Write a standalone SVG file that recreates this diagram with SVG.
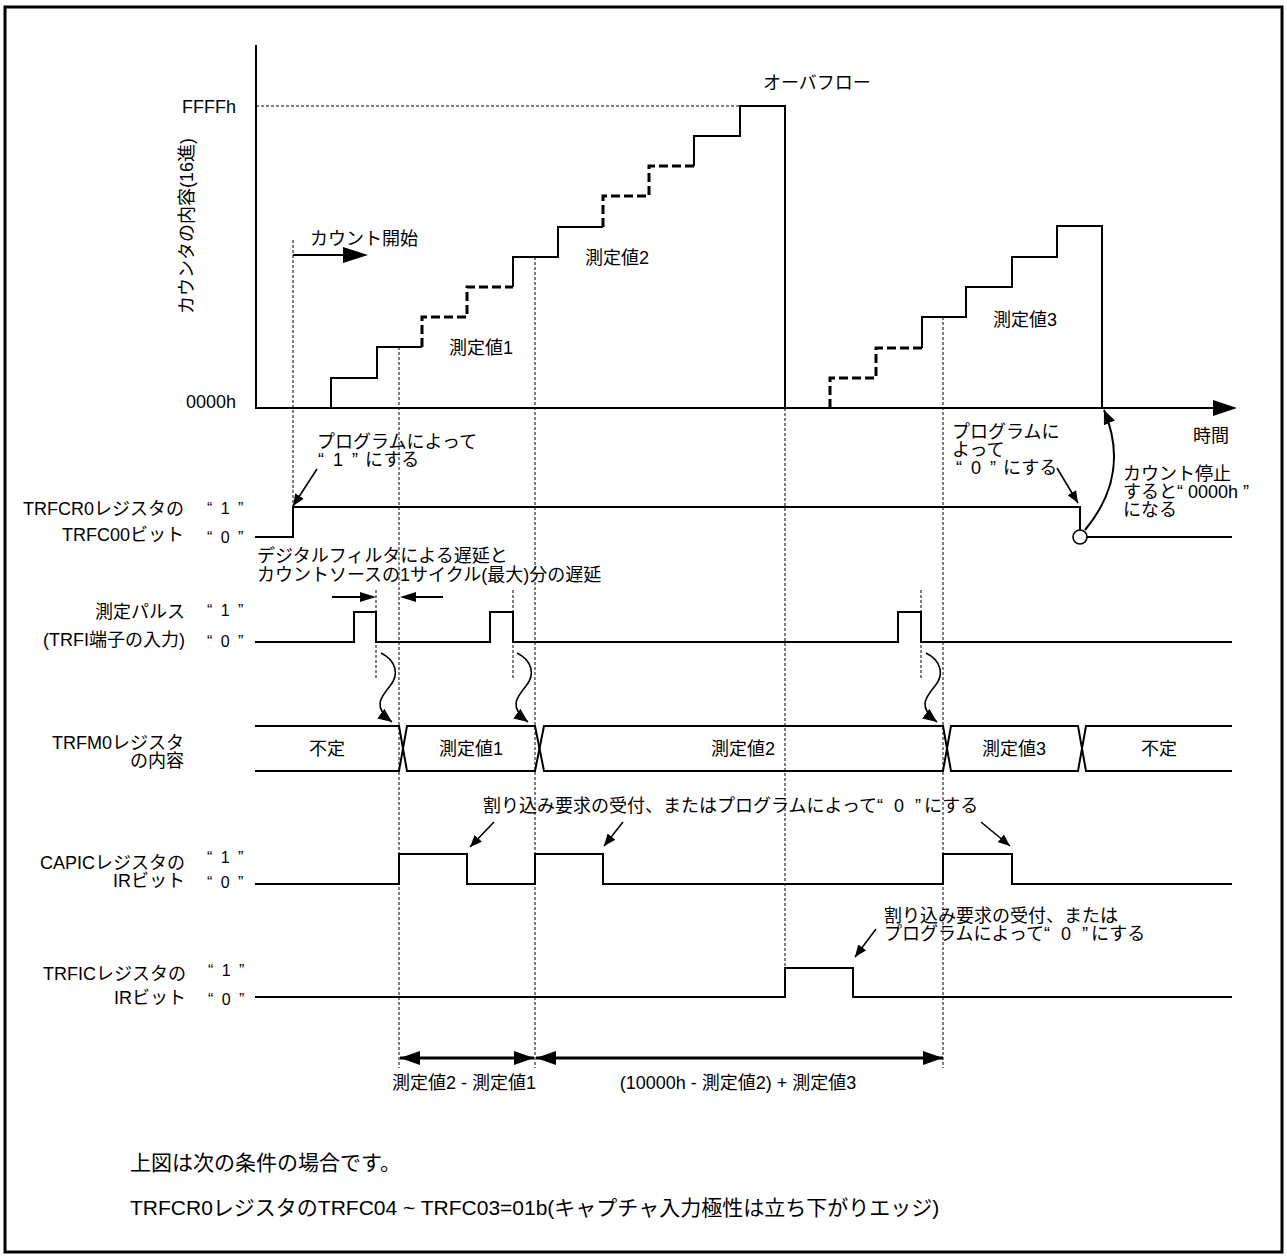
<svg xmlns="http://www.w3.org/2000/svg" width="1287" height="1257" viewBox="0 0 1287 1257">
<style>
text{font-family:"Liberation Sans","Noto Sans CJK JP",sans-serif;font-size:18px;fill:#000;}
.e{text-anchor:end}
.m{text-anchor:middle}
.q{font-size:16px;letter-spacing:2px}
.w{letter-spacing:2px}
.w5{letter-spacing:3px}
.n{font-size:21px}
.s{fill:none;stroke:#000;stroke-width:2}
.t{fill:none;stroke:#000;stroke-width:1.6}
.d{fill:none;stroke:#000;stroke-width:1;stroke-dasharray:3 2}
.dd{fill:none;stroke:#000;stroke-width:3;stroke-dasharray:9 4}
</style>
<defs>
<marker id="ah" viewBox="0 0 12 10" refX="12" refY="5" markerWidth="12" markerHeight="10" markerUnits="userSpaceOnUse" orient="auto"><path d="M0,0 L12,5 L0,10 z"/></marker>
<marker id="ahs" viewBox="0 0 14 12" refX="14" refY="6" markerWidth="14" markerHeight="12" markerUnits="userSpaceOnUse" orient="auto"><path d="M0,0 L14,6 L0,12 z"/></marker>
<marker id="mb" viewBox="0 0 20 14" refX="20" refY="7" markerWidth="20" markerHeight="14" markerUnits="userSpaceOnUse" orient="auto-start-reverse"><path d="M0,0 L20,7 L0,14 z"/></marker>
<path id="sq" d="M381,653 C397,661 399,675 390,686 C381,697 372,707 392,722"/>
</defs>
<rect x="5" y="7" width="1277" height="1245" fill="#fff" stroke="#000" stroke-width="3"/>

<g id="guides">
<path class="d" d="M256,106 H740"/>
<path class="d" d="M293,240 V508"/>
<path class="d" d="M399,347 V1068"/>
<path class="d" d="M535,257 V1068"/>
<path class="d" d="M785,408 V968"/>
<path class="d" d="M943,317 V1068"/>
<path class="d" d="M376,590 V680"/>
<path class="d" d="M513,590 V680"/>
<path class="d" d="M921,590 V680"/>
</g>

<g id="counter-graph">
<path class="s" d="M256,45 V408 H1215"/>
<polygon points="1213,400 1237,408 1213,416"/>
<text class="e" x="236" y="113">FFFFh</text>
<text class="e" x="236" y="408">0000h</text>
<text class="m" transform="translate(193,226) rotate(-90)">カウンタの内容(16進)</text>
<text x="763" y="89">オーバフロー</text>
<text x="1193" y="442">時間</text>
<path class="s" d="M331,408 V378 H377 V347 H422"/>
<path class="dd" d="M422,347 V317 H467 V287 H513"/>
<path class="s" d="M513,287 V257 H558 V227 H603"/>
<path class="dd" d="M603,227 V196 H649 V166 H694"/>
<path class="s" d="M694,166 V136 H740 V106 H785 V408"/>
<path class="dd" d="M830,408 V378 H876 V348 H922"/>
<path class="s" d="M922,348 V317 H966 V287 H1012 V257 H1057 V226 H1102 V408"/>
<text x="449" y="354">測定値1</text>
<text x="585" y="264">測定値2</text>
<text x="993" y="326">測定値3</text>
<path class="s" d="M293,255 H345"/>
<polygon points="343,247 368,255 343,263"/>
<text x="310" y="245">カウント開始</text>
</g>

<g id="trfcr0">
<text class="e" x="184" y="515">TRFCR0レジスタの</text>
<text class="e" x="184" y="541">TRFC00ビット</text>
<text class="q" x="207" y="514">“ 1 ”</text>
<text class="q" x="207" y="543">“ 0 ”</text>
<path class="s" d="M255,537 H293 V507 H1080 V530"/>
<circle cx="1080" cy="537" r="7" fill="#fff" stroke="#000" stroke-width="1.6"/>
<path class="s" d="M1087,537 H1232"/>
<path class="t" marker-end="url(#ah)" d="M317,469 L293,506"/>
<text x="317" y="448">プログラムによって</text>
<text x="318" y="466"><tspan class="w">“ 1 ”</tspan> にする</text>
<path class="t" marker-end="url(#ah)" d="M1057,468 L1078,503"/>
<text x="952" y="438">プログラムに</text>
<text x="952" y="456">よって</text>
<text x="956" y="474"><tspan class="w">“ 0 ”</tspan> にする</text>
<path class="s" marker-end="url(#ahs)" d="M1085,530 C1110,500 1125,460 1104,410"/>
<text x="1123" y="480">カウント停止</text>
<text x="1123" y="498">すると“ 0000h ”</text>
<text x="1123" y="516">になる</text>
</g>

<g id="pulse">
<text x="257" y="562">デジタルフィルタによる遅延と</text>
<text x="257" y="581">カウントソースの1サイクル(最大)分の遅延</text>
<path class="s" d="M332,597 H362"/>
<polygon points="360,592 376,597 360,602"/>
<path class="s" d="M443,597 H414"/>
<polygon points="416,592 400,597 416,602"/>
<text class="e" x="185" y="618">測定パルス</text>
<text class="e" x="185" y="646">(TRFI端子の入力)</text>
<text class="q" x="207" y="616">“ 1 ”</text>
<text class="q" x="207" y="647">“ 0 ”</text>
<path class="s" d="M255,642 H354 V612 H376 V642 H490 V612 H513 V642 H898 V612 H921 V642 H1232"/>
</g>

<g id="squiggles" class="t">
<use href="#sq" marker-end="url(#ahs)"/>
<use href="#sq" transform="translate(136,0)" marker-end="url(#ahs)"/>
<use href="#sq" transform="translate(545,0)" marker-end="url(#ahs)"/>
</g>

<g id="trfm0">
<text class="e" x="184" y="749">TRFM0レジスタ</text>
<text class="e" x="184" y="767">の内容</text>
<path class="s" d="M255,726 H399 L407,771 H535 L544,726 H943 L951,771 H1078 L1086,726 H1232"/>
<path class="s" d="M255,771 H399 L407,726 H535 L544,771 H943 L951,726 H1078 L1086,771 H1232"/>
<text class="m" x="327" y="755">不定</text>
<text class="m" x="471" y="755">測定値1</text>
<text class="m" x="743" y="755">測定値2</text>
<text class="m" x="1014" y="755">測定値3</text>
<text class="m" x="1159" y="755">不定</text>
</g>

<g id="capic">
<text x="483" y="812">割り込み要求の受付、またはプログラムによって<tspan class="w5">“ 0 ”</tspan>にする</text>
<path class="t" marker-end="url(#ah)" d="M494,822 L470,847"/>
<path class="t" marker-end="url(#ah)" d="M623,822 L604,846"/>
<path class="t" marker-end="url(#ah)" d="M981,822 L1010,846"/>
<text class="e" x="185" y="869">CAPICレジスタの</text>
<text class="e" x="185" y="887">IRビット</text>
<text class="q" x="207" y="863">“ 1 ”</text>
<text class="q" x="207" y="888">“ 0 ”</text>
<path class="s" d="M255,884 H399 V854 H467 V884 H535 V854 H603 V884 H943 V854 H1012 V884 H1232"/>
</g>

<g id="trfic">
<text x="884" y="922">割り込み要求の受付、または</text>
<text x="884" y="940">プログラムによって<tspan class="w5">“ 0 ”</tspan>にする</text>
<path class="t" marker-end="url(#ah)" d="M876,929 L855,957"/>
<text class="e" x="186" y="980">TRFICレジスタの</text>
<text class="e" x="186" y="1004">IRビット</text>
<text class="q" x="208" y="976">“ 1 ”</text>
<text class="q" x="208" y="1005">“ 0 ”</text>
<path class="s" d="M255,997 H785 V968 H853 V997 H1232"/>
</g>

<g id="intervals">
<path fill="none" stroke="#000" stroke-width="3" marker-start="url(#mb)" marker-end="url(#mb)" d="M400,1058 H534"/>
<path fill="none" stroke="#000" stroke-width="3" marker-start="url(#mb)" marker-end="url(#mb)" d="M536,1058 H943"/>
<text class="m" x="464" y="1089">測定値2 - 測定値1</text>
<text class="m" x="738" y="1089">(10000h - 測定値2) + 測定値3</text>
</g>

<g id="notes">
<text class="n" x="130" y="1170">上図は次の条件の場合です。</text>
<text class="n" x="130" y="1215">TRFCR0レジスタのTRFC04 ~ TRFC03=01b(キャプチャ入力極性は立ち下がりエッジ)</text>
</g>
</svg>
